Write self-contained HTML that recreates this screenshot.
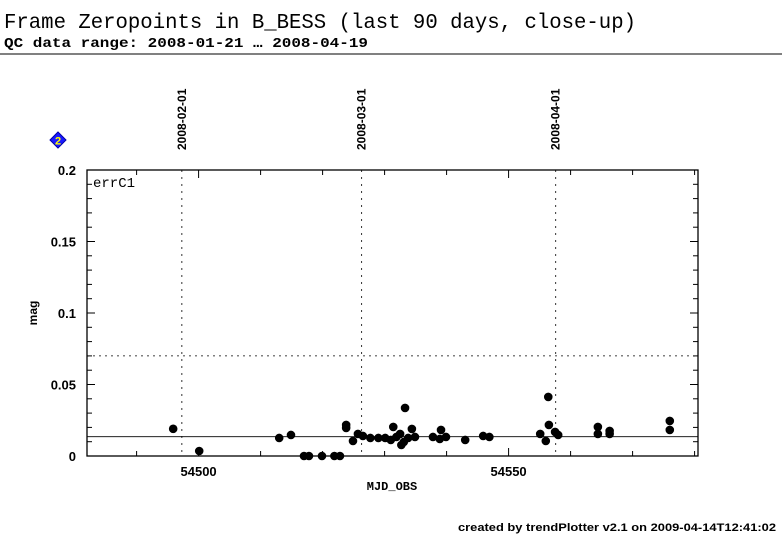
<!DOCTYPE html>
<html><head><meta charset="utf-8"><style>
body{margin:0;background:#fff;width:782px;height:542px;overflow:hidden}
svg text{font-family:"Liberation Sans",sans-serif}
</style></head><body>
<svg width="782" height="542" xmlns="http://www.w3.org/2000/svg">
<text x="4" y="28" font-size="21" textLength="632" lengthAdjust="spacingAndGlyphs" style="font-family:'Liberation Mono',monospace">Frame Zeropoints in B_BESS (last 90 days, close-up)</text>
<text x="4" y="47" font-size="14" font-weight="bold" textLength="364" lengthAdjust="spacingAndGlyphs" style="font-family:'Liberation Mono',monospace">QC data range: 2008-01-21 … 2008-04-19</text>
<line x1="0" y1="54" x2="782" y2="54" stroke="#000" stroke-width="1"/>
<g id="plot"></g>
<text x="776" y="531" text-anchor="end" font-size="11" font-weight="bold" textLength="318" lengthAdjust="spacingAndGlyphs">created by trendPlotter v2.1 on 2009-04-14T12:41:02</text>
</svg>
<script>
const mjd=[54495.9,54500.1,54513.0,54514.9,54517.0,54517.8,54519.9,54521.9,54522.8,54523.8,54523.8,54524.9,54525.7,54526.5,54527.7,54529.0,54530.1,54531.0,54531.4,54531.9,54532.5,54532.7,54533.1,54533.3,54533.8,54534.4,54534.9,54537.8,54538.9,54539.1,54539.9,54543.0,54545.9,54546.9,54555.1,54556.0,54556.4,54556.5,54557.5,54558.0,54564.4,54564.4,54566.3,54566.3,54576.0,54576.0];
const errC1=[0.019,0.0035,0.0126,0.0147,0,0,0,0,0,0.0217,0.0196,0.0105,0.0154,0.014,0.0126,0.0126,0.0126,0.0112,0.0203,0.0133,0.0154,0.0077,0.0098,0.0336,0.0126,0.0189,0.0133,0.0133,0.0119,0.0182,0.0133,0.0112,0.014,0.0133,0.0154,0.0105,0.0413,0.0217,0.0168,0.0147,0.0203,0.0154,0.0175,0.0154,0.0245,0.0182];
const xTicks=[54500,54550];
const yTicks=[0,0.05,0.1,0.15,0.2];
const yTickLabels=["0","0.05","0.1","0.15","0.2"];
const dateMjd=[54497.3,54526.3,54557.6];
const dateLabels=["2008-02-01","2008-03-01","2008-04-01"];
const median=0.0135, threshold=0.07;
const L=87,R=698,T=170,B=456,x0=54482.0,x1=54580.55;
const X=m=>L+(m-x0)/(x1-x0)*(R-L), Y=v=>B-v/0.2*(B-T);
const g=document.getElementById('plot'),NS='http://www.w3.org/2000/svg';
function mk(t,a,p){const e=document.createElementNS(NS,t);for(const k in a)e.setAttribute(k,a[k]);(p||g).appendChild(e);return e;}
let e;
e=mk('rect',{x:L,y:T,width:R-L,height:B-T,fill:'none',stroke:'#000','stroke-width':1.3});


for(let m=54490;m<=54580;m+=10){const maj=(m%50===0);const x=X(m);const len=maj?8:5;
mk('line',{x1:x,y1:B,x2:x,y2:B-len,stroke:'#000'});mk('line',{x1:x,y1:T,x2:x,y2:T+len,stroke:'#000'});}
for(let v=0.01;v<0.2;v+=0.01){const maj=Math.abs(v*20-Math.round(v*20))<1e-6;const y=Y(v);const len=maj?8:5;
mk('line',{x1:L,y1:y,x2:L+len,y2:y,stroke:'#000'});mk('line',{x1:R,y1:y,x2:R-len,y2:y,stroke:'#000'});}
xTicks.forEach(m=>{e=mk('text',{x:X(m),y:B+20,'text-anchor':'middle','font-size':13,'font-weight':'bold'});e.textContent=m;

});
yTicks.forEach((v,i)=>{e=mk('text',{x:76,y:Y(v)+5,'text-anchor':'end','font-size':13,'font-weight':'bold'});e.textContent=yTickLabels[i];

});
dateMjd.forEach((m,i)=>{const x=X(m);
e=mk('line',{x1:x,y1:T,x2:x,y2:B,stroke:'#000','stroke-dasharray':'2,5','stroke-width':0.8});


e=mk('text',{x:0,y:0,'font-size':12,'font-weight':'bold',transform:`translate(${x+4},150) rotate(-90)`});e.textContent=dateLabels[i];

});
e=mk('line',{x1:L,y1:Y(threshold),x2:R,y2:Y(threshold),stroke:'#000','stroke-dasharray':'2,4','stroke-width':0.8});


e=mk('line',{x1:L,y1:Y(median),x2:R,y2:Y(median),stroke:'#000','stroke-width':0.8});


mjd.forEach((m,i)=>{e=mk('circle',{cx:X(m),cy:Y(errC1[i]),r:4.3,fill:'#000'});

});
e=mk('text',{x:93,y:187,'font-size':14,style:"font-family:'Liberation Mono',monospace"});e.textContent='errC1';


e=mk('text',{x:0,y:0,'font-size':12,'font-weight':'bold','text-anchor':'middle',transform:'translate(37,313) rotate(-90)'});e.textContent='mag';


e=mk('text',{x:392,y:490,'font-size':12,'font-weight':'bold','text-anchor':'middle',style:"font-family:'Liberation Mono',monospace"});e.textContent='MJD_OBS';


e=mk('polygon',{points:'58,132 66,140 58,148 50,140',fill:'#1a1aff',stroke:'#0000aa'});


e=mk('text',{x:58,y:144.5,'font-size':11,'font-weight':'bold','text-anchor':'middle',fill:'#ffff00'});e.textContent='2';


</script>
</body></html>
